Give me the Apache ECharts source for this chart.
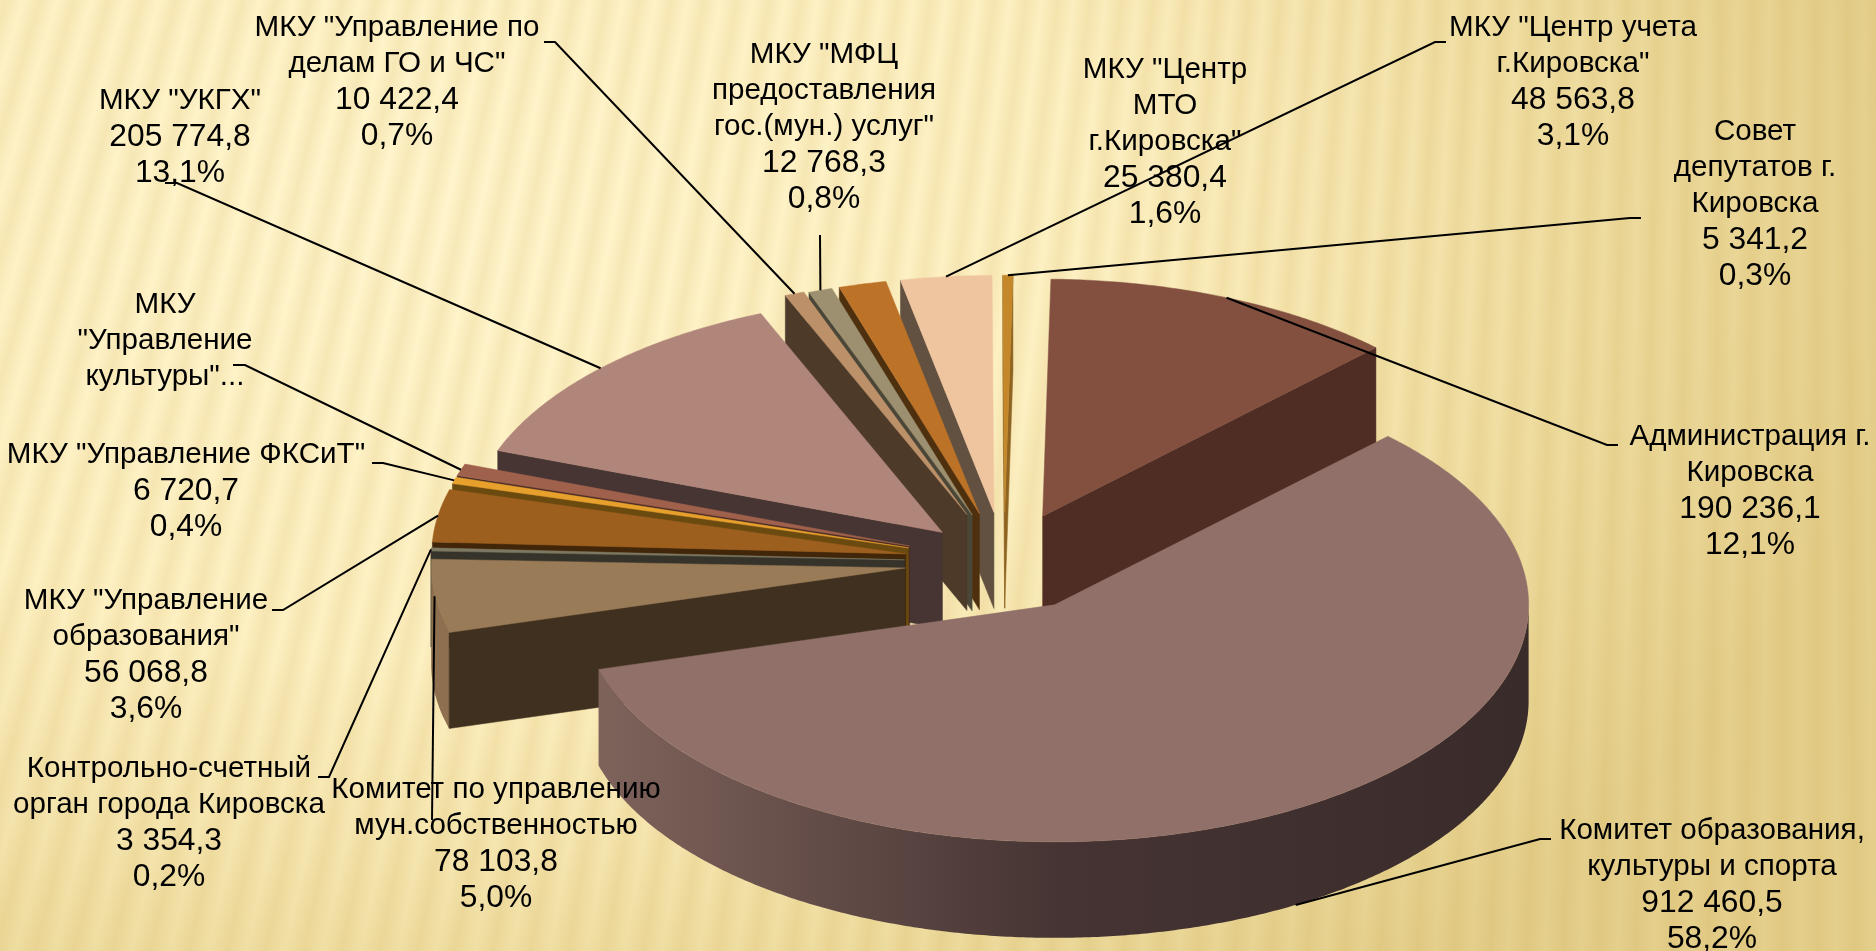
<!DOCTYPE html>
<html>
<head>
<meta charset="utf-8">
<title>Расходы бюджета</title>
<style>
  html, body { margin: 0; padding: 0; height: 100%; overflow: hidden; }
  #chart {
    width: 1876px;
    height: 951px;
    background:
      repeating-conic-gradient(from 0deg at 1800px -6000px,
        rgba(196, 150, 50, 0) 0deg, rgba(196, 150, 50, .13) .15deg, rgba(196, 150, 50, 0) .3deg),
      radial-gradient(ellipse 1500px 1000px at 22% 22%, #fff5cd 0%, #fdf0c2 45%, #f0dfa4 75%, #e4cf8c 100%);
  }
</style>
</head>
<body>
<div id="chart"></div>
<script src="https://cdn.jsdelivr.net/npm/echarts@6/dist/echarts.min.js"></script>
<script>
// данные, по часовой стрелке от верха диаграммы
const names = [
  'Администрация г.\nКировска',
  'Комитет образования,\nкультуры и спорта',
  'Комитет по управлению\nмун.собственностью',
  'Контрольно-счетный\nорган города Кировска',
  'МКУ "Управление\nобразования"',
  'МКУ "Управление ФКСиТ"',
  'МКУ\n"Управление\nкультуры"...',
  'МКУ "УКГХ"',
  'МКУ "Управление по\nделам ГО и ЧС"',
  'МКУ "МФЦ\nпредоставления\nгос.(мун.) услуг"',
  'МКУ "Центр\nМТО\nг.Кировска"',
  'МКУ "Центр учета\nг.Кировска"',
  'Совет\nдепутатов г.\nКировска'
]
// значение для "Управление культуры" на картинке не подписано, оценка по углу
const values = [190236.1, 912460.5, 78103.8, 3354.3, 56068.8, 6720.7, 12700, 205774.8, 10422.4, 12768.3, 25380.4, 48563.8, 5341.2]
const valueLabels = ['190 236,1', '912 460,5', '78 103,8', '3 354,3', '56 068,8', '6 720,7', '', '205 774,8', '10 422,4', '12 768,3', '25 380,4', '48 563,8', '5 341,2']
const percentLabels = ['12,1%', '58,2%', '5,0%', '0,2%', '3,6%', '0,4%', '', '13,1%', '0,7%', '0,8%', '1,6%', '3,1%', '0,3%']

// цвета: верх, стенка разреза, внешняя стенка
const topColors = ['#835040', '#917069', '#9a7b57', '#7d7862', '#9c5f1e', '#e8a02c', '#a0614c', '#b0857a', '#bc9069', '#9c9070', '#bc7328', '#efc5a0', '#c4882a']
const wallColors = ['#502d24', '#3c2c2c', '#40301f', '#35332a', '#42260a', '#6b4a10', '#4b2d25', '#473533', '#4d3a29', '#4a4738', '#4f300e', '#625040', '#8f6420']
const rimColors = ['#502d24', null, '#8e6f50', '#6b604c', '#7a5420', '#8a6a20', '#6b4030', '#6b524c', '#7a6048', '#6b6450', '#7a4c18', '#a08870', '#8f6420']

// подписи: центр текста по x, верх текста по y, излом выноски
const labelPos = [
  [1750, 419], [1712, 813], [496, 772], [169, 751], [146, 583], [186, 437], [165, 287],
  [180, 83], [397, 10], [824, 37], [1165, 52], [1573, 10], [1755, 114]
]
const leaderBends = [
  [[1618, 445], [1607, 445]], [[1551, 839], [1540, 839]], [[432, 820]], [[318, 777], [329, 777]],
  [[272, 610], [283, 610]], [[372, 463], [383, 463]], [[233, 365], [245, 365]], [[165, 183], [177, 183]],
  [[544, 42], [555, 42]], [[820, 235]], null, [[1446, 42], [1435, 42]], [[1641, 218], [1630, 218]]
]

// геометрия псевдо-3D круга, вынос секторов задан отдельно
const cx = 1004, cy = 562, rx = 474, ry = 237, depth = 96, firstAngle = 1
const explodes = [0.21, 0.21, 0.21, 0.21, 0.21, 0.21, 0.21, 0.18, 0.215, 0.21, 0.21, 0.21, 0.21]

const rad = d => d * Math.PI / 180
const total = values.reduce((a, b) => a + b, 0)
const slices = []
let acc = firstAngle
values.forEach((v, i) => {
  const a0 = acc
  const a1 = acc + v / total * 360
  acc = a1
  const mid = (a0 + a1) / 2
  slices.push({
    i, a0, a1, mid,
    ax: cx + explodes[i] * rx * Math.sin(rad(mid)),
    ay: cy - explodes[i] * ry * Math.cos(rad(mid))
  })
})

const onArc = (s, t, dy) => [s.ax + rx * Math.sin(rad(t)), s.ay - ry * Math.cos(rad(t)) + (dy || 0)]

function arcPoints(s, from, to, dy) {
  const pts = []
  const n = Math.max(2, Math.ceil((to - from) / 0.5))
  for (let k = 0; k <= n; k++) pts.push(onArc(s, from + (to - from) * k / n, dy))
  return pts
}

function wall(s, t, color) {
  const p = onArc(s, t)
  return {
    type: 'polygon',
    shape: { points: [[s.ax, s.ay], p, [p[0], p[1] + depth], [s.ax, s.ay + depth]] },
    style: { fill: color, stroke: color, lineWidth: 0.5 }
  }
}

// дальние секторы рисуем раньше ближних
const drawOrder = slices.slice().sort((a, b) => Math.abs(b.mid - 180) - Math.abs(a.mid - 180))

function renderSlice(params, api) {
  const s = drawOrder[api.value(0)]
  const children = []
  const i = s.i

  // внешняя стенка видна только в нижней половине эллипса
  const from = Math.max(s.a0, 90)
  const to = Math.min(s.a1, 270)
  if (to > from) {
    const fill = rimColors[i] || new echarts.graphic.LinearGradient(0, 0, 1, 0, [
      { offset: 0, color: '#7e635b' },
      { offset: 0.22, color: '#654e49' },
      { offset: 0.5, color: '#453433' },
      { offset: 1, color: '#3a2b2b' }
    ])
    children.push({
      type: 'polygon',
      shape: { points: arcPoints(s, from, to, 0).concat(arcPoints(s, from, to, depth).reverse()) },
      style: { fill }
    })
  }
  if (Math.sin(rad(s.a0)) < 0) children.push(wall(s, s.a0, wallColors[i]))
  if (Math.sin(rad(s.a1)) > 0) children.push(wall(s, s.a1, wallColors[i]))

  children.push({
    type: 'polygon',
    shape: { points: [[s.ax, s.ay]].concat(arcPoints(s, s.a0, s.a1, 0)) },
    style: { fill: topColors[i], stroke: topColors[i], lineWidth: 0.5 }
  })
  return { type: 'group', children }
}

function renderLabel(params, api) {
  const i = api.value(0)
  const s = slices[i]
  const children = []
  if (leaderBends[i]) {
    // выноска приходит в середину дуги, у переднего сектора в нижний край
    const end = onArc(s, s.mid, Math.cos(rad(s.mid)) < -0.5 ? depth : 0)
    children.push({
      type: 'polyline',
      shape: { points: leaderBends[i].concat([end]) },
      style: { stroke: '#000', lineWidth: 2, fill: null }
    })
  }
  const x = labelPos[i][0]
  const y = labelPos[i][1]
  const textStyle = { fill: '#000', lineHeight: 36, textAlign: 'center', textVerticalAlign: 'top' }
  children.push({
    type: 'text', x, y,
    style: Object.assign({ text: names[i], font: '29.6px "Liberation Sans"' }, textStyle)
  })
  // цифры в оригинале шире букв, поэтому отдельный размер
  const numbers = [valueLabels[i], percentLabels[i]].filter(Boolean).join('\n')
  if (numbers) {
    children.push({
      type: 'text', x, y: y + 36 * names[i].split('\n').length,
      style: Object.assign({ text: numbers, font: '31.8px "Liberation Sans"' }, textStyle)
    })
  }
  return { type: 'group', children }
}

const myChart = echarts.init(document.getElementById('chart'))
myChart.setOption({
  backgroundColor: 'transparent',
  animation: false,
  series: [
    {
      type: 'custom',
      coordinateSystem: 'none',
      silent: true,
      renderItem: renderSlice,
      data: drawOrder.map((s, k) => [k])
    },
    {
      type: 'custom',
      coordinateSystem: 'none',
      silent: true,
      z: 5,
      renderItem: renderLabel,
      data: names.map((n, i) => [i])
    }
  ]
})
</script>
</body>
</html>
